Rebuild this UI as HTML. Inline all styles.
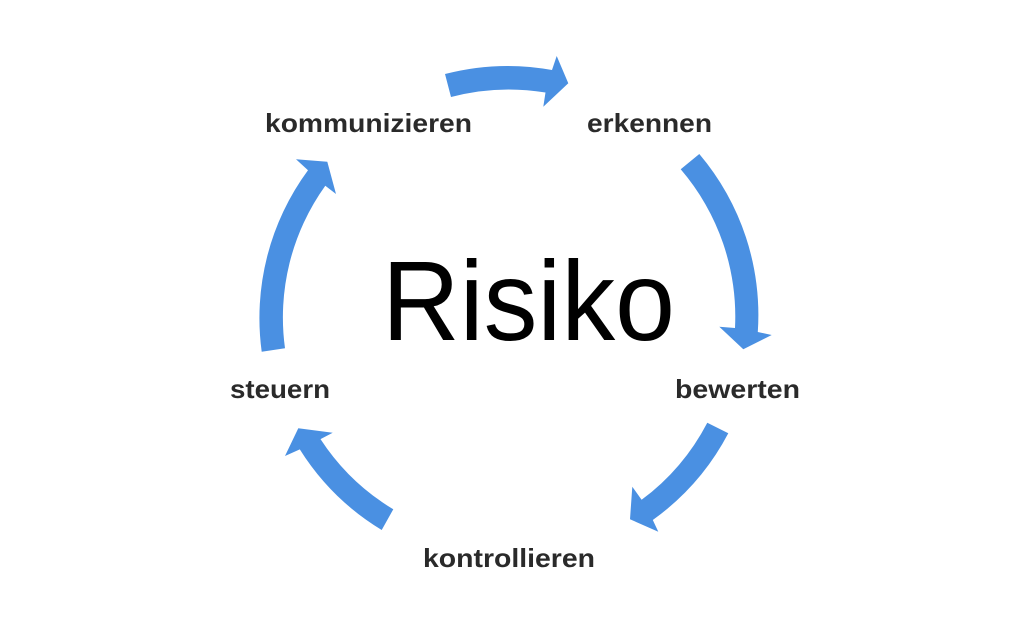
<!DOCTYPE html>
<html>
<head>
<meta charset="utf-8">
<style>
  html, body { margin: 0; padding: 0; background: #ffffff; }
  body { width: 1024px; height: 631px; overflow: hidden; }
  svg { display: block; }
  .lbl { font-family: "Liberation Sans", Arial, sans-serif; font-weight: bold; font-size: 26px; fill: #2a2a2a; }
  .big { font-family: "Liberation Sans", Arial, sans-serif; font-size: 113px; fill: #000000; }
</style>
</head>
<body>
<svg width="1024" height="631" viewBox="0 0 1024 631" xmlns="http://www.w3.org/2000/svg">
  <rect width="1024" height="631" fill="#ffffff"/>
  <g fill="#4a90e2">
    <!-- top arrow -->
    <path d="M 445,74 A 249 249 0 0 1 552,70 L 556.7,56 L 568.3,83.3 L 543.3,106.7 L 545.5,92.5 A 226 226 0 0 0 451,97 Z"/>
    <!-- right arrow -->
    <path d="M 699.3,154 A 249 249 0 0 1 757.8,332 L 771.7,335 L 743.3,349.3 L 719.3,326.7 L 735,328 A 226 226 0 0 0 680.7,169.3 Z"/>
    <!-- bottom-right arrow -->
    <path d="M 728.3,433.3 A 249 249 0 0 1 652.8,520 L 658.3,531.7 L 630,519.3 L 632.3,486.7 L 641.6,499.8 A 226 226 0 0 0 707.3,422.7 Z"/>
    <!-- bottom-left arrow -->
    <path d="M 381.7,530 A 249 249 0 0 1 299.8,449.4 L 285,456 L 298.3,428.3 L 332.7,432.7 L 320.5,439.1 A 226 226 0 0 0 393.3,509.3 Z"/>
    <!-- left arrow -->
    <path d="M 261.7,351.7 A 249 249 0 0 1 308,170.3 L 296,159.3 L 327.3,161.7 L 336,194 L 325.3,185.7 A 226 226 0 0 0 285,348.3 Z"/>
  </g>

  <text class="big" x="382" y="340" textLength="293" lengthAdjust="spacingAndGlyphs">Risiko</text>

  <text class="lbl" x="265" y="132" textLength="207" lengthAdjust="spacingAndGlyphs">kommunizieren</text>
  <text class="lbl" x="587" y="132" textLength="125" lengthAdjust="spacingAndGlyphs">erkennen</text>
  <text class="lbl" x="675" y="398" textLength="125" lengthAdjust="spacingAndGlyphs">bewerten</text>
  <text class="lbl" x="230" y="398" textLength="100" lengthAdjust="spacingAndGlyphs">steuern</text>
  <text class="lbl" x="423" y="567" textLength="172" lengthAdjust="spacingAndGlyphs">kontrollieren</text>
</svg>
</body>
</html>
